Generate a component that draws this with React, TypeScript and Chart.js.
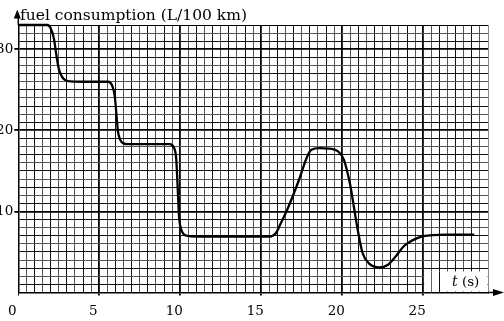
import React, { useEffect, useRef } from "react";
import { Chart, registerables } from "chart.js";

Chart.register(...registerables);

const timeSeconds = [
  0, 1.0, 1.8, 2.0, 2.2, 2.35, 2.5, 2.7, 2.9, 3.2,
  4.5, 5.55, 5.8, 5.95, 6.05, 6.15, 6.3, 6.5, 6.8, 8.0,
  9.35, 9.6, 9.75, 9.85, 9.92, 10.0, 10.15, 10.4, 11.0, 13.0,
  15.5, 15.9, 16.2, 16.6, 17.35, 17.8, 18.1, 18.6, 19.2, 19.8,
  20.1, 20.3, 20.5, 20.7, 20.95, 21.25, 21.65, 22.3, 22.8, 23.3,
  23.8, 24.3, 25.0, 26.4, 28.15,
];
const fuelConsumption = [
  33, 33, 33, 32.6, 31.3, 29.3, 27.6, 26.6, 26.2, 26.05,
  26, 26, 25.5, 24.3, 22.2, 19.9, 18.8, 18.4, 18.3, 18.3,
  18.3, 17.9, 16.5, 12.5, 9.5, 8.2, 7.35, 7.0, 6.9, 6.9,
  6.9, 7.3, 8.5, 10.2, 14.0, 16.6, 17.6, 17.8, 17.75, 17.3,
  16.4, 15.0, 13.2, 10.8, 7.8, 4.9, 3.6, 3.1, 3.4, 4.45,
  5.7, 6.4, 6.95, 7.15, 7.15,
];
const xTickLabels = [0, 5, 10, 15, 20, 25];
const yTickLabels = [10, 20, 30];
const yAxisTitle = "fuel consumption (L/100 km)";
const xAxisTitleVar = "t";
const xAxisTitleUnit = " (s)";

const X_MIN = 0;
const X_MAX = 29;
const Y_MIN = 0;
const Y_MAX = 33;

const FONT = "'DejaVu Serif', serif";

const isMult = (v: number, m: number) => Math.abs(v / m - Math.round(v / m)) < 1e-6;

const overlay = {
  id: "overlay",
  afterDraw(chart: any) {
    const { ctx, chartArea: a, scales } = chart;
    const x = scales.x;
    const y = scales.y;
    ctx.save();
    // white label box at lower right
    const bx0 = x.getPixelForValue(25);
    const by0 = y.getPixelForValue(2.6);
    ctx.fillStyle = "#fff";
    ctx.fillRect(bx0 + 1, by0, a.right - bx0 - 1.5, a.bottom - by0 - 1);
    ctx.lineWidth = 1;
    [25.5, 26].forEach((t, i) => {
      const px = Math.round(x.getPixelForValue(t)) + 0.5;
      ctx.strokeStyle = i === 0 ? "#666" : "#111";
      ctx.beginPath();
      ctx.moveTo(px, by0);
      ctx.lineTo(px, a.bottom);
      ctx.stroke();
    });
    // x-axis label
    ctx.fillStyle = "#000";
    ctx.textBaseline = "alphabetic";
    ctx.textAlign = "left";
    ctx.font = `italic 14px ${FONT}`;
    const lx = 452;
    const ly = 286;
    ctx.fillText(xAxisTitleVar, lx, ly);
    const w = ctx.measureText(xAxisTitleVar).width;
    ctx.font = `13.5px ${FONT}`;
    ctx.fillText(xAxisTitleUnit, lx + w, ly);

    // x-axis arrow
    ctx.strokeStyle = "#000";
    ctx.lineWidth = 1.5;
    ctx.beginPath();
    ctx.moveTo(a.right, a.bottom);
    ctx.lineTo(496, a.bottom);
    ctx.stroke();
    ctx.beginPath();
    ctx.moveTo(504, a.bottom);
    ctx.lineTo(493, a.bottom - 3.5);
    ctx.lineTo(493, a.bottom + 3.5);
    ctx.closePath();
    ctx.fill();

    // y-axis arrow
    const ax = a.left;
    ctx.beginPath();
    ctx.moveTo(ax, a.top);
    ctx.lineTo(ax, 16);
    ctx.stroke();
    ctx.beginPath();
    ctx.moveTo(ax - 1, 9.5);
    ctx.lineTo(ax - 4.5, 18.5);
    ctx.lineTo(ax + 2.5, 18.5);
    ctx.closePath();
    ctx.fill();

    // y-axis title
    ctx.font = `15.5px ${FONT}`;
    ctx.fillText(yAxisTitle, 20, 20);
    ctx.restore();
  },
};

export default function App() {
  const ref = useRef<HTMLCanvasElement>(null);
  useEffect(() => {
    const chart = new Chart(ref.current as HTMLCanvasElement, {
      type: "line",
      data: {
        datasets: [
          {
            data: timeSeconds.map((t, i) => ({ x: t, y: fuelConsumption[i] })),
            borderColor: "#000",
            borderWidth: 2.3,
            pointRadius: 0,
            fill: false,
            cubicInterpolationMode: "monotone",
            clip: false as any,
          },
        ],
      },
      options: {
        animation: false,
        responsive: false,
        devicePixelRatio: 1,
        layout: { padding: { top: 25, right: 16, left: 0, bottom: 0 } },
        plugins: { legend: { display: false }, tooltip: { enabled: false }, title: { display: false } },
        scales: {
          x: {
            type: "linear",
            min: X_MIN,
            max: X_MAX,
            afterFit: (s: any) => {
              s.height = 28.5;
            },
            ticks: {
              stepSize: 0.5,
              autoSkip: false,
              maxRotation: 0,
              minRotation: 0,
              maxTicksLimit: 1000,
              labelOffset: -6,
              padding: 8,
              color: "#000",
              font: { family: FONT, size: 13.5 },
              callback: (v: any) => (xTickLabels.some((l) => Math.abs(l - v) < 1e-6) ? String(v) : ""),
            },
            grid: {
              color: (c: any) => {
                const v = c.tick ? c.tick.value : 0;
                if (isMult(v, 5)) return "#000";
                if (Math.abs(v - X_MAX) < 1e-6) return "#888";
                return Math.round(v * 2) % 2 === 1 ? "#555" : "#111";
              },
              lineWidth: (c: any) => {
                const v = c.tick ? c.tick.value : 0;
                return isMult(v, 5) && v > 0 ? 1.8 : 1;
              },
              tickLength: 3,
              tickColor: (c: any) => {
                const v = c.tick ? c.tick.value : 0;
                return isMult(v, 5) ? "#000" : "rgba(0,0,0,0)";
              },
            },
            border: { display: true, color: "#000", width: 1.5 },
          },
          y: {
            type: "linear",
            min: Y_MIN,
            max: Y_MAX,
            afterFit: (s: any) => {
              s.width = 18.3;
            },
            ticks: {
              stepSize: 1,
              autoSkip: false,
              maxTicksLimit: 1000,
              padding: 1,
              color: "#000",
              font: { family: FONT, size: 13.5 },
              callback: (v: any) => (yTickLabels.some((l) => Math.abs(l - v) < 1e-6) ? String(v) : ""),
            },
            grid: {
              color: (c: any) => {
                const v = c.tick ? c.tick.value : 0;
                if (isMult(v, 10) || Math.abs(v - Y_MAX) < 1e-6) return "#000";
                return Math.round(v) % 2 === 1 ? "#111" : "#555";
              },
              lineWidth: (c: any) => {
                const v = c.tick ? c.tick.value : 0;
                return isMult(v, 10) && v > 0 ? 1.8 : 1;
              },
              tickLength: 4,
              tickColor: (c: any) => {
                const v = c.tick ? c.tick.value : 0;
                return isMult(v, 10) && v > 0 ? "#000" : "rgba(0,0,0,0)";
              },
            },
            border: { display: true, color: "#000", width: 1.5 },
          },
        },
      },
      plugins: [overlay],
    } as any);
    return () => chart.destroy();
  }, []);
  return (
    <div style={{ position: "fixed", left: 0, top: 0, width: 504, height: 321, background: "#fff", overflow: "hidden" }}>
      <canvas ref={ref} width={504} height={321} style={{ display: "block", width: 504, height: 321 }} />
    </div>
  );
}
